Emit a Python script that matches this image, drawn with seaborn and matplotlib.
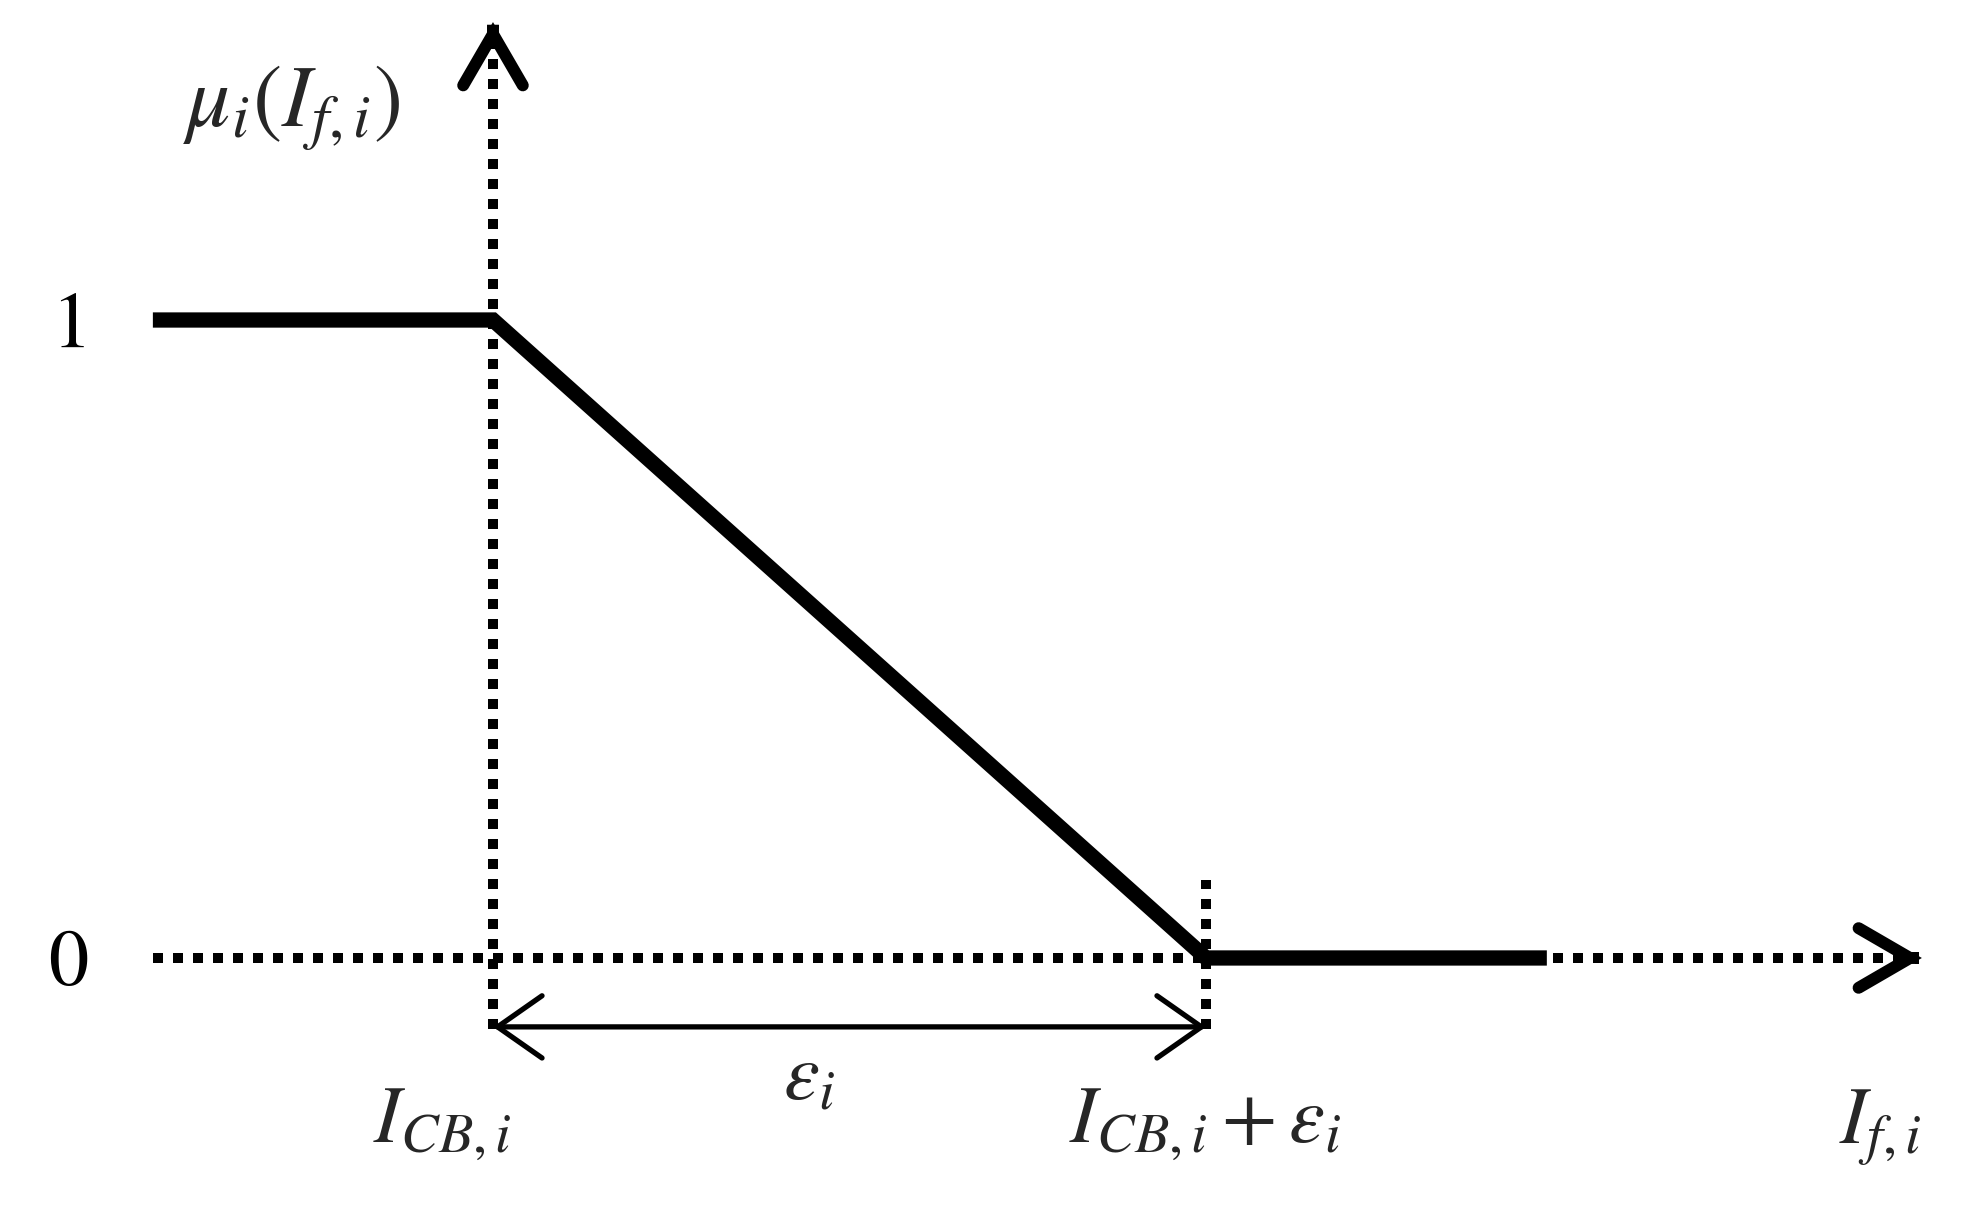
import matplotlib
matplotlib.use("Agg")
import matplotlib.pyplot as plt
import seaborn as sns
import numpy as np

sns.set_theme(style="white")
plt.rcParams['mathtext.fontset'] = 'stix'
plt.rcParams['font.family'] = ['STIXGeneral', 'DejaVu Serif']

# ---- data (I_CB,i = 0, epsilon_i = 1 in diagram units) ----
x_knots = [-0.477, 0.0, 1.0, 1.478]      # I_f,i breakpoints
mu_vals = [1, 1, 0, 0]                   # membership values
y_ticks = [1, 0]
y_tick_labels = ['$1$', '$0$']
x_axis_end = 2.004
y_axis_end = 1.467
axis_bottom = -0.111
eps_top = 0.122
arrow_y = -0.108

fig = plt.figure(figsize=(19.8, 12.14), dpi=100)
ax = fig.add_axes([0, 0, 1, 1])
ax.set_xlim(-0.6914, 2.0855)
ax.set_ylim(-0.4013, 1.5016)
ax.axis('off')

FS = 58
dot_kw = dict(color='black', lw=7.2, dashes=(1, 1), dash_capstyle='butt', solid_capstyle='butt')

# dotted axes
ax.plot([x_knots[0], x_axis_end - 0.015], [0, 0], **dot_kw)
ax.plot([0, 0], [axis_bottom, y_axis_end - 0.015], **dot_kw)
ax.plot([1, 1], [axis_bottom, eps_top], **dot_kw)

# membership function
sns.lineplot(x=x_knots, y=mu_vals, ax=ax, color='black', lw=11, sort=False,
             estimator=None)
for l in ax.lines[-1:]:
    l.set_solid_joinstyle('miter')
    l.set_solid_capstyle('butt')

# axis arrowheads (open chevrons)
head = dict(arrowstyle='->,head_length=1.0,head_width=0.58', color='black', lw=8.6,
            mutation_scale=37, shrinkA=0, shrinkB=0, capstyle='round', joinstyle='miter')
ax.annotate('', xy=(x_axis_end, 0), xytext=(x_axis_end - 0.005, 0), arrowprops=head)
ax.annotate('', xy=(0, y_axis_end), xytext=(0, y_axis_end - 0.005), arrowprops=head)

# epsilon double arrow
ax.annotate('', xy=(1, arrow_y), xytext=(0, arrow_y),
            arrowprops=dict(arrowstyle='<->,head_length=1.0,head_width=0.7', color='black',
                            lw=3.8, mutation_scale=32, shrinkA=0, shrinkB=0,
                            capstyle='round'))

# y tick labels
for v, lab in zip(y_ticks, y_tick_labels):
    ax.text(-0.596, v - 0.042, lab, fontsize=FS, ha='center', va='baseline', color='black')

# labels
ax.text(-0.282, 1.302, r'$\mu_i\left(I_{f,i}\right)$', fontsize=63, ha='center', va='baseline')
ax.text(-0.0715, -0.29, r'$I_{CB,i}$', fontsize=FS, ha='center', va='baseline')
ax.text(0.443, -0.2226, r'$\varepsilon_i$', fontsize=FS, ha='center', va='baseline')
ax.text(0.9986, -0.29, r'$I_{CB,i}+\varepsilon_i$', fontsize=FS, ha='center', va='baseline')
ax.text(1.945, -0.29, r'$I_{f,i}$', fontsize=FS, ha='center', va='baseline')

fig.savefig('out.png', dpi=100, facecolor='white')
